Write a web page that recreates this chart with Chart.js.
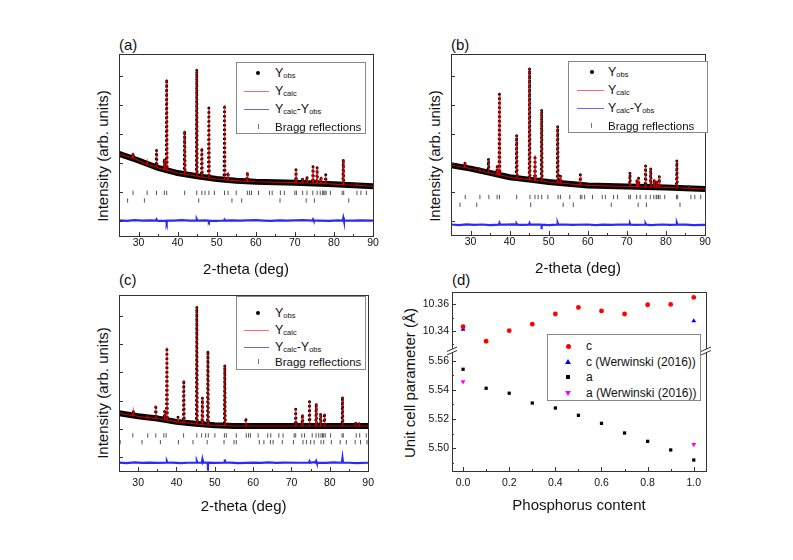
<!DOCTYPE html>
<html>
<head>
<meta charset="utf-8">
<script src="https://cdn.jsdelivr.net/npm/chart.js@4.4.1/dist/chart.umd.min.js"></script>
<style>
body{margin:0;width:793px;height:560px;background:#fff;position:relative;overflow:hidden;font-family:"Liberation Sans",Arial,sans-serif;color:#111}
canvas{position:absolute}
.plab{position:absolute;font-size:15px;line-height:16px}
.ytitle{position:absolute;font-size:15px;white-space:nowrap;transform:translate(-50%,-50%) rotate(-90deg)}
.leg{position:absolute;box-sizing:border-box;border:1px solid #888;background:#fff;font-size:11.5px}
.row{position:absolute;left:0;right:0;height:16px}
.row .t{position:absolute;left:38px;top:0;line-height:16px;white-space:nowrap}
.row .t.big{font-size:12.5px}
sub{font-size:7.5px;position:relative;top:1px;vertical-align:baseline}
.sym{position:absolute}
.dot{width:4px;height:4px;border-radius:50%;background:#000;left:19px;top:6px}
.ln{height:1px;left:7px;width:25px;top:8px}
.tk{width:1px;height:5px;background:#777;left:21px;top:5px}
.tri{width:0;height:0;border-left:3px solid transparent;border-right:3px solid transparent;border-bottom:5px solid #00f;left:17px;top:5px}
.tridn{width:0;height:0;border-left:3px solid transparent;border-right:3px solid transparent;border-top:5px solid #f0f;left:17px;top:6px}
.sq{width:4px;height:4px;background:#000;left:18px;top:6px}
.cdot{width:5px;height:5px;border-radius:50%;background:#f00;left:17.5px;top:5.5px}
</style>
</head>
<body>

<div class="plab" style="left:119px;top:37px">(a)</div>
<div class="plab" style="left:451px;top:37px">(b)</div>
<div class="plab" style="left:119px;top:272px">(c)</div>
<div class="plab" style="left:452px;top:272px">(d)</div>

<div class="ytitle" style="left:102px;top:156px">Intensity (arb. units)</div>
<div class="ytitle" style="left:434px;top:156px">Intensity (arb. units)</div>
<div class="ytitle" style="left:102px;top:393px">Intensity (arb. units)</div>
<div class="ytitle" style="left:409px;top:383px">Unit cell parameter (Å)</div>

<canvas id="ca" width="295" height="250" style="left:85px;top:30px"></canvas>
<canvas id="cb" width="295" height="250" style="left:417px;top:30px"></canvas>
<canvas id="cc" width="295" height="255" style="left:85px;top:265px"></canvas>
<canvas id="cd" width="296" height="255" style="left:417px;top:265px"></canvas>

<div class="leg" style="left:236px;top:62px;width:130px;height:72px">
  <div class="row" style="top:2px"><span class="sym dot"></span><span class="t big">Y<sub>obs</sub></span></div>
  <div class="row" style="top:20px"><span class="sym ln" style="background:#f66"></span><span class="t big">Y<sub>calc</sub></span></div>
  <div class="row" style="top:38px"><span class="sym ln" style="background:#66f"></span><span class="t big">Y<sub>calc</sub>-Y<sub>obs</sub></span></div>
  <div class="row" style="top:56px"><span class="sym tk"></span><span class="t">Bragg reflections</span></div>
</div>
<div class="leg" style="left:568px;top:61px;width:140px;height:72px">
  <div class="row" style="top:2px"><span class="sym dot" style="left:21px"></span><span class="t big" style="left:39px">Y<sub>obs</sub></span></div>
  <div class="row" style="top:20px"><span class="sym ln" style="background:#f66;left:8px;width:27px"></span><span class="t big" style="left:39px">Y<sub>calc</sub></span></div>
  <div class="row" style="top:38px"><span class="sym ln" style="background:#66f;left:8px;width:27px"></span><span class="t big" style="left:39px">Y<sub>calc</sub>-Y<sub>obs</sub></span></div>
  <div class="row" style="top:56px"><span class="sym tk" style="left:22px"></span><span class="t" style="left:39px">Bragg reflections</span></div>
</div>
<div class="leg" style="left:236px;top:296px;width:130px;height:74px">
  <div class="row" style="top:8px"><span class="sym dot"></span><span class="t big">Y<sub>obs</sub></span></div>
  <div class="row" style="top:25px"><span class="sym ln" style="background:#f66"></span><span class="t big">Y<sub>calc</sub></span></div>
  <div class="row" style="top:42px"><span class="sym ln" style="background:#66f"></span><span class="t big">Y<sub>calc</sub>-Y<sub>obs</sub></span></div>
  <div class="row" style="top:57px"><span class="sym tk"></span><span class="t">Bragg reflections</span></div>
</div>
<div class="leg" style="left:547px;top:334px;width:154px;height:67px;font-size:12px">
  <div class="row" style="top:3px"><span class="sym cdot"></span><span class="t">c</span></div>
  <div class="row" style="top:19px"><span class="sym tri"></span><span class="t">c (Werwinski (2016))</span></div>
  <div class="row" style="top:34px"><span class="sym sq"></span><span class="t">a</span></div>
  <div class="row" style="top:50px"><span class="sym tridn"></span><span class="t">a (Werwinski (2016))</span></div>
</div>

<script>
// ---- XRD panels: 2-theta ticks ----
const xTicksXrd = [30, 40, 50, 60, 70, 80, 90];
const xMinorXrd = [35, 45, 55, 65, 75, 85];
const yTicksXrd = [8, 24, 40, 56, 72, 88];

// background points (2-theta, intensity)
const bgX = [25, 30, 35, 40, 45, 50, 55, 60, 70, 80, 90];
// difference curve sample points
const diffX = [25, 27, 29, 31, 33, 35, 39, 41, 43, 47, 50, 54, 56, 60, 62, 64, 66, 68, 72, 76, 79, 81, 85, 87, 90];

// (a)
const bgA = [45.2, 41.5, 37.4, 34.6, 32.8, 31.3, 30.4, 29.8, 29.3, 28.5, 27.3];
const peakPosA  = [28.6, 32.2, 34.6, 36.6, 37.2, 41.8, 44.9, 46.2, 48.0, 52.0, 52.9, 57.85, 70.3, 72.0, 73.1, 74.65, 75.7, 76.7, 77.9, 82.4, 85.85];
const peakTopA  = [45.7, 41.0, 47.2, 42.4, 86.1, 57.8, 91.7, 48.5, 70.4, 72.0, 35.0, 35.2, 36.5, 31.9, 32.8, 38.1, 37.7, 32.6, 33.7, 42.2, 29.4];
const peakBaseA = [42.8, 39.2, 38.0, 36.5, 36.2, 34.0, 32.9, 32.4, 31.9, 30.9, 30.7, 30.0, 29.3, 29.2, 29.1, 29.0, 28.9, 28.9, 28.8, 28.2, 27.9];
const diffA = [8.6, 8.3, 8.7, 8.4, 8.6, 8.3, 8.5, 8.7, 8.4, 8.6, 8.3, 8.6, 8.4, 8.7, 8.5, 8.3, 8.6, 8.4, 8.7, 8.5, 8.3, 8.6, 8.4, 8.6, 8.5];
const diffLevelA = 8.5;
const spikePosA = [34.6, 37.2, 44.9, 48.0, 52.0, 74.65, 82.4];
const spikeValA = [9.1, 7.3, 9.2, 7.9, 9.0, 9.1, 10.0];
const braggA1 = [28.6, 32.2, 34.6, 36.6, 37.2, 41.8, 44.9, 46.2, 47.0, 48.0, 49.4, 52.0, 52.9, 55.0, 57.85, 58.4, 58.9, 60.7, 63.5, 64.2, 66.3, 67.3, 70.0, 70.4, 72.0, 73.1, 74.6, 75.7, 76.5, 77.1, 77.4, 77.7, 78.0, 79.1, 82.1, 82.5, 85.9, 86.9, 88.3];
const braggA2 = [27.2, 31.5, 45.4, 53.9, 56.4, 66.2, 72.9, 75.0, 83.8];

// (b)
const bgB = [38.5, 36.7, 34.3, 31.9, 30.6, 29.3, 28.3, 27.4, 26.8, 26.3, 25.4];
const peakPosB  = [28.6, 32.3, 34.6, 36.8, 37.4, 41.8, 45.1, 46.5, 48.2, 52.3, 53.0, 58.1, 70.8, 72.6, 73.0, 74.8, 76.1, 77.0, 77.6, 78.3, 82.8, 85.9];
const peakTopB  = [40.4, 37.6, 42.2, 38.0, 77.8, 55.2, 92.2, 43.9, 69.4, 60.2, 32.8, 33.3, 34.6, 30.6, 31.5, 38.3, 37.0, 30.6, 30.0, 32.4, 41.3, 27.2];
const peakBaseB = [37.3, 35.6, 34.5, 33.5, 33.2, 31.4, 30.6, 30.2, 29.8, 28.8, 28.7, 27.7, 26.8, 26.7, 26.7, 26.6, 26.5, 26.5, 26.4, 26.4, 26.1, 25.9];
const diffB = [5.8, 5.5, 5.9, 5.6, 5.8, 5.5, 5.7, 5.9, 5.6, 5.7, 5.5, 5.8, 5.6, 5.8, 5.5, 5.7, 5.6, 5.8, 5.6, 5.5, 5.8, 5.6, 5.7, 5.5, 5.6];
const diffLevelB = 5.7;
const spikePosB = [37.4, 41.8, 45.1, 48.2, 52.3, 70.8, 74.8, 82.8];
const spikeValB = [6.6, 6.2, 6.5, 5.1, 6.6, 6.4, 6.3, 6.6];
const braggB1 = [28.65, 32.4, 34.7, 36.8, 37.4, 41.8, 45.2, 46.5, 47.3, 48.2, 49.8, 52.4, 53.0, 55.4, 58.1, 58.5, 59.2, 61.2, 63.7, 64.5, 66.6, 67.6, 70.5, 70.9, 72.5, 73.4, 74.9, 76.0, 76.9, 77.5, 77.7, 78.1, 78.5, 79.7, 82.7, 83.0, 86.4, 87.4, 88.9];
const braggB2 = [27.3, 31.6, 45.4, 53.7, 56.3, 66.0, 72.9, 75.0, 83.6];

// (c)
const bgC = [32.8, 31.1, 29.8, 27.9, 26.8, 26.0, 25.6, 25.6, 25.6, 25.6, 25.6];
const peakPosC  = [28.75, 32.4, 34.6, 36.9, 37.5, 40.4, 41.9, 45.3, 46.75, 48.2, 52.6, 58.1, 71.1, 72.85, 74.7, 76.45, 77.6, 78.6, 83.3, 86.7, 87.6];
const peakTopC  = [34.0, 31.3, 37.4, 34.0, 70.2, 30.5, 51.6, 93.4, 41.6, 68.3, 60.2, 30.3, 35.2, 32.2, 39.4, 38.4, 32.8, 32.8, 42.2, 27.8, 27.3];
const peakBaseC = [31.5, 30.3, 29.9, 29.1, 28.9, 27.8, 27.5, 26.7, 26.4, 26.2, 25.8, 25.6, 25.6, 25.6, 25.6, 25.6, 25.6, 25.6, 25.6, 25.6, 25.6];
const diffC = [4.8, 4.5, 4.9, 4.6, 4.8, 4.6, 4.8, 4.5, 4.7, 4.9, 4.6, 4.8, 4.5, 4.8, 4.6, 4.9, 4.6, 4.8, 4.7, 5.0, 4.6, 4.9, 4.7, 4.5, 4.7];
const diffLevelC = 4.7;
const spikePosC = [37.5, 45.3, 46.75, 48.2, 52.6, 74.7, 76.45, 83.3];
const spikeValC = [5.5, 5.6, 6.5, 3.4, 6.6, 5.5, 5.6, 7.3];
const braggC1 = [28.6, 32.5, 34.6, 36.7, 37.3, 41.85, 45.3, 46.55, 47.6, 48.3, 50.0, 52.5, 53.0, 55.6, 58.2, 58.8, 59.3, 61.3, 63.8, 64.6, 66.7, 67.8, 70.7, 71.1, 72.7, 73.4, 75.4, 76.4, 77.1, 77.7, 78.1, 78.4, 78.8, 80.2, 83.2, 83.5, 86.9, 87.8, 89.5];
const braggC2 = [25.3, 31.0, 35.8, 40.5, 44.3, 48.0, 52.4, 55.0, 55.6, 61.6, 62.8, 64.5, 65.2, 67.6, 70.5, 73.0, 73.9, 75.0, 75.9, 77.7, 78.4, 80.4, 82.7, 84.3, 86.6, 88.0, 89.7];

// ---- (d) lattice parameters ----
const phos = [0, 0.1, 0.2, 0.3, 0.4, 0.5, 0.6, 0.7, 0.8, 0.9, 1.0];
const cParam = [10.343, 10.332, 10.340, 10.345, 10.3527, 10.3577, 10.355, 10.3527, 10.3597, 10.360, 10.3653];
const aParam = [5.5541, 5.5411, 5.5377, 5.531, 5.5276, 5.5226, 5.5171, 5.5105, 5.5048, 5.4989, 5.492];
const werX = [0, 1.0];
const werC = [10.341, 10.3474];
const werA = [5.5456, 5.5027];
const xTicksD = [0, 0.2, 0.4, 0.6, 0.8, 1.0];
const xMinorD = [0.1, 0.3, 0.5, 0.7, 0.9];
const cTicks = [10.34, 10.36];
const cMinor = [10.33, 10.35];
const aTicks = [5.50, 5.52, 5.54, 5.56];
const aMinor = [5.49, 5.51, 5.53, 5.55];

Chart.defaults.font.family = '"Liberation Sans", Arial, sans-serif';
Chart.defaults.color = '#111';
Chart.defaults.animation = false;

function pts(xs, ys) { return xs.map((x, i) => ({x: x, y: ys[i]})); }
function row(xs, level) { return xs.map(x => ({x: x, y: level})); }
// base points plus narrow spikes (each spike: foot, tip, foot)
function withSpikes(base, pos, tip, foot, w) {
  const p = base.slice();
  pos.forEach((x, i) => {
    const f = Array.isArray(foot) ? foot[i] : foot;
    p.push({x: x - w, y: f}, {x: x, y: tip[i]}, {x: x + w, y: f});
  });
  return p.sort((a, b) => a.x - b.x);
}

// frame, inward tick marks, axis break
const frame = {
  id: 'frame',
  afterDatasetsDraw(chart, args, o) {
    const {ctx, chartArea: a} = chart;
    ctx.save();
    ctx.strokeStyle = '#333';
    ctx.lineWidth = 1;
    ctx.strokeRect(Math.round(a.left) + 0.5, Math.round(a.top) + 0.5, Math.round(a.right - a.left), Math.round(a.bottom - a.top));
    ctx.beginPath();
    Object.values(chart.scales).forEach(s => {
      const minor = (o.minor && o.minor[s.id]) || [];
      const marks = s.ticks.map(t => [t.value, 4]).concat(minor.map(v => [v, 2]));
      marks.forEach(([v, len]) => {
        const px = Math.round(s.getPixelForValue(v)) + 0.5;
        if (s.isHorizontal()) { ctx.moveTo(px, a.bottom); ctx.lineTo(px, a.bottom - len); }
        else { ctx.moveTo(a.left, px); ctx.lineTo(a.left + len, px); }
      });
    });
    ctx.stroke();
    if (o.brk) {
      const yb = chart.scales[o.brk].top;
      [a.left, a.right].forEach(x0 => {
        ctx.fillStyle = '#fff';
        ctx.fillRect(x0 - 2, yb - 2, 4, 4);
        ctx.beginPath();
        ctx.moveTo(x0 - 5, yb + 0.5); ctx.lineTo(x0 + 5, yb - 4);
        ctx.moveTo(x0 - 5, yb + 4); ctx.lineTo(x0 + 5, yb - 0.5);
        ctx.stroke();
      });
    }
    ctx.restore();
  }
};

const tickFont = {size: 10.5};
const titleFont = {size: 15};

function xrdChart(id, d, lay) {
  new Chart(document.getElementById(id), {
    type: 'scatter',
    data: {
      datasets: [
        {label: 'Ycalc', data: d.prof, showLine: true, borderColor: 'rgba(255,0,0,0.8)', borderWidth: 1.1, pointRadius: 0, order: 0},
        {label: 'Yobs', data: d.prof, showLine: true, borderColor: '#000', borderWidth: 3, borderDash: [0, 4.5], borderCapStyle: 'round', pointRadius: 0, order: 1},
        {label: 'Yobs band', data: d.bg, showLine: true, borderColor: '#000', borderWidth: 6, pointRadius: 0, order: 2},
        {label: 'Ycalc-Yobs', data: d.diff, showLine: true, borderColor: '#2a2aff', borderWidth: 2.2, pointRadius: 0, order: 0},
        {label: 'Bragg 1', data: d.b1, pointStyle: 'line', rotation: 90, pointRadius: 2.2, borderColor: '#555', borderWidth: 1, order: 0},
        {label: 'Bragg 2', data: d.b2, pointStyle: 'line', rotation: 90, pointRadius: 2.2, borderColor: '#555', borderWidth: 1, order: 0}
      ]
    },
    options: {
      responsive: false,
      events: [],
      layout: {padding: {top: lay.top, right: 7, left: 0, bottom: 0}},
      plugins: {legend: {display: false}, tooltip: {enabled: false}, frame: {minor: {x: xMinorXrd}}},
      scales: {
        x: {
          type: 'linear', min: 25, max: 90,
          afterFit: s => { s.height = lay.xh; },
          afterBuildTicks: s => { s.ticks = xTicksXrd.map(v => ({value: v})); },
          grid: {display: false, drawTicks: false}, border: {display: false},
          ticks: {padding: lay.tp, font: tickFont, color: '#111', maxRotation: 0, autoSkip: false, callback: v => String(v)},
          title: {display: true, text: '2-theta (deg)', font: titleFont, color: '#111', padding: {top: 0, bottom: lay.tb}}
        },
        y: {
          type: 'linear', min: 0, max: 100,
          afterFit: s => { s.width = 34; },
          afterBuildTicks: s => { s.ticks = yTicksXrd.map(v => ({value: v})); },
          grid: {display: false, drawTicks: false}, border: {display: false},
          ticks: {display: false}
        }
      }
    },
    plugins: [frame]
  });
}

function panel(bg, pos, top, base, diff, level, sPos, sVal, b1, b2, r1, r2) {
  return {
    prof: withSpikes(pts(bgX, bg), pos, top, base, 0.12),
    bg: pts(bgX, bg),
    diff: withSpikes(pts(diffX, diff), sPos, sVal, level, 0.15),
    b1: row(b1, r1),
    b2: row(b2, r2)
  };
}

xrdChart('ca', panel(bgA, peakPosA, peakTopA, peakBaseA, diffA, diffLevelA, spikePosA, spikeValA, braggA1, braggA2, 23.7, 19.5), {top: 24, xh: 44, tp: 1, tb: 1});
xrdChart('cb', panel(bgB, peakPosB, peakTopB, peakBaseB, diffB, diffLevelB, spikePosB, spikeValB, braggB1, braggB2, 21.0, 16.7), {top: 24, xh: 45, tp: 1, tb: 2});
xrdChart('cc', panel(bgC, peakPosC, peakTopC, peakBaseC, diffC, diffLevelC, spikePosC, spikeValC, braggC1, braggC2, 20.2, 16.4), {top: 30, xh: 49, tp: 6, tb: 4});

new Chart(document.getElementById('cd'), {
  type: 'scatter',
  data: {
    datasets: [
      {label: 'c', data: pts(phos, cParam), yAxisID: 'yc', pointStyle: 'circle', pointRadius: 2.4, backgroundColor: '#ff0000', borderWidth: 0},
      {label: 'c (Werwinski (2016))', data: pts(werX, werC), yAxisID: 'yc', pointStyle: 'triangle', pointRadius: 2.8, backgroundColor: '#0000ff', borderWidth: 0},
      {label: 'a', data: pts(phos, aParam), yAxisID: 'ya', pointStyle: 'rect', pointRadius: 2.3, backgroundColor: '#000', borderWidth: 0},
      {label: 'a (Werwinski (2016))', data: pts(werX, werA), yAxisID: 'ya', pointStyle: 'triangle', rotation: 180, pointRadius: 2.8, backgroundColor: '#ff00ff', borderWidth: 0}
    ]
  },
  options: {
    responsive: false,
    events: [],
    layout: {padding: {top: 27, right: 7, left: 0, bottom: 0}},
    plugins: {legend: {display: false}, tooltip: {enabled: false}, frame: {minor: {x: xMinorD, yc: cMinor, ya: aMinor}, brk: 'ya'}},
    scales: {
      x: {
        type: 'linear', min: -0.048, max: 1.053,
        afterFit: s => { s.height = 49; },
        afterBuildTicks: s => { s.ticks = xTicksD.map(v => ({value: v})); },
        grid: {display: false, drawTicks: false}, border: {display: false},
        ticks: {padding: 6, font: tickFont, color: '#111', maxRotation: 0, autoSkip: false, callback: v => v.toFixed(1)},
        title: {display: true, text: 'Phosphorus content', font: titleFont, color: '#111', padding: {top: 0, bottom: 5}}
      },
      ya: {
        type: 'linear', position: 'left', stack: 'u', stackWeight: 120, min: 5.4845, max: 5.5666,
        afterFit: s => { s.width = 35; },
        afterBuildTicks: s => { s.ticks = aTicks.map(v => ({value: v})); },
        grid: {display: false, drawTicks: false}, border: {display: false},
        ticks: {padding: 3, font: tickFont, color: '#111', autoSkip: false, callback: v => v.toFixed(2)}
      },
      yc: {
        type: 'linear', position: 'left', stack: 'u', stackWeight: 59, min: 10.3246, max: 10.3694,
        afterFit: s => { s.width = 35; },
        afterBuildTicks: s => { s.ticks = cTicks.map(v => ({value: v})); },
        grid: {display: false, drawTicks: false}, border: {display: false},
        ticks: {padding: 3, font: tickFont, color: '#111', autoSkip: false, callback: v => v.toFixed(2)}
      }
    }
  },
  plugins: [frame]
});
</script>
</body>
</html>
